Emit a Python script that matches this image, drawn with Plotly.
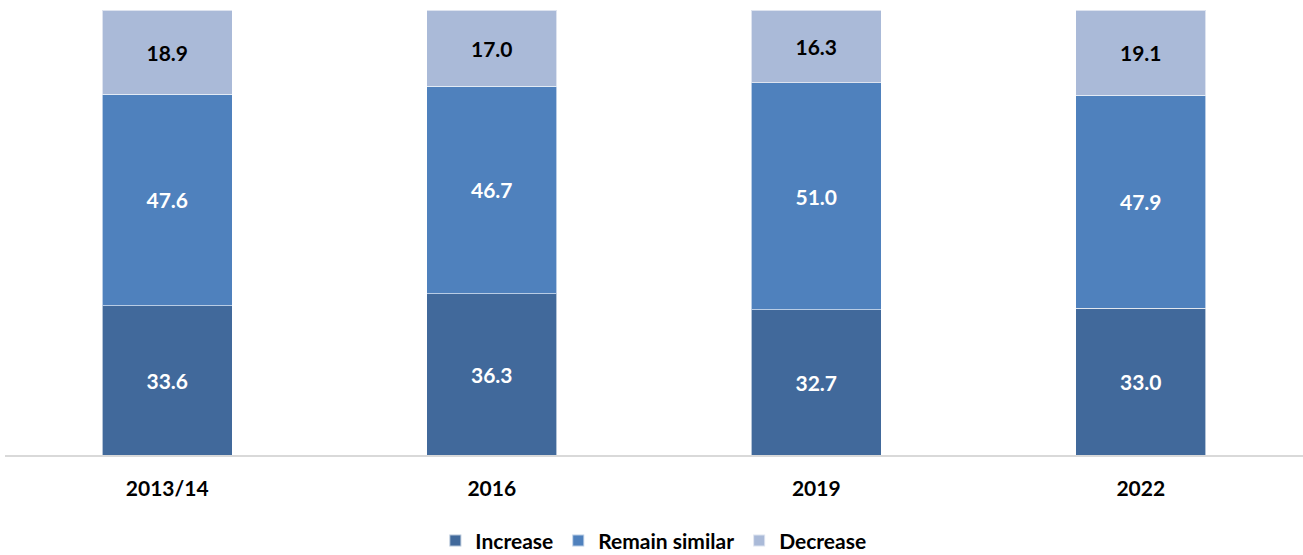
import plotly.graph_objects as go

# Survey waves and share of responses (%) per answer
years = ["2013/14", "2016", "2019", "2022"]
increase = [33.6, 36.3, 32.7, 33.0]
remain_similar = [47.6, 46.7, 51.0, 47.9]
decrease = [18.9, 17.0, 16.3, 19.1]

series = [
    ("Increase", increase, "#41699b", "white"),
    ("Remain similar", remain_similar, "#4f81bd", "white"),
    ("Decrease", decrease, "#aabad8", "black"),
]

FONT = "Lato"

fig = go.Figure()
for name, values, color, text_color in series:
    fig.add_trace(go.Bar(
        x=years,
        y=values,
        name=name,
        marker=dict(color=color, line=dict(color="rgba(255,255,255,0.6)", width=1)),
        text=[f"{v:.1f}" for v in values],
        textposition="inside",
        insidetextanchor="middle",
        textangle=0,
        textfont=dict(family=FONT, size=21, color=text_color, weight="bold"),
    ))

fig.update_layout(
    barmode="stack",
    bargap=0.6,
    width=1303,
    height=555,
    margin=dict(l=5, r=0, t=10, b=100, autoexpand=False),
    paper_bgcolor="white",
    plot_bgcolor="white",
    font=dict(family=FONT, size=21, color="black"),
    showlegend=True,
    legend=dict(
        orientation="h",
        x=0.4995,
        xanchor="center",
        y=-0.193,
        yanchor="middle",
        font=dict(family=FONT, size=21, color="black", weight="bold"),
        itemsizing="constant",
        traceorder="normal",
    ),
    xaxis=dict(
        showline=True,
        linecolor="#d9d9d9",
        linewidth=2,
        showgrid=False,
        zeroline=False,
        ticks="",
        ticklabelstandoff=14,
        tickfont=dict(family=FONT, size=21, color="black", weight="bold"),
    ),
    yaxis=dict(
        range=[0, 100.1],
        visible=False,
        showgrid=False,
        zeroline=False,
    ),
)

fig.write_html("out.html")
